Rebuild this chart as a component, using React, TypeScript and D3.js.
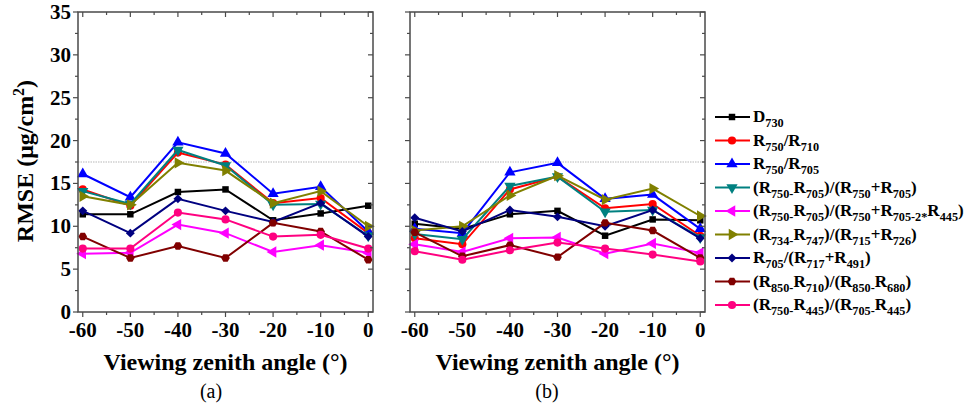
import * as d3 from "d3";

// viewing zenith angles (x)
const angles = [-60, -50, -40, -30, -20, -10, 0];
const yTicks = [0, 5, 10, 15, 20, 25, 30, 35];
const refLine = 17.5;

// legend labels, _{...} = subscript
const labels = [
  "D_{730}",
  "R_{750}/R_{710}",
  "R_{750}/R_{705}",
  "(R_{750-}R_{705})/(R_{750}+R_{705})",
  "(R_{750-}R_{705})/(R_{750}+R_{705-2*}R_{445})",
  "(R_{734-}R_{747})/(R_{715}+R_{726})",
  "R_{705}/(R_{717}+R_{491})",
  "(R_{850-}R_{710})/(R_{850-}R_{680})",
  "(R_{750-}R_{445})/(R_{705-}R_{445})",
];
const colors = ["#000000", "#ff0000", "#0000ff", "#008080", "#ff00ff", "#808000", "#000080", "#800000", "#ff0080"];
const shapes = ["square", "circle", "up", "down", "left", "right", "diamond", "hexagon", "circle"];

// panel (a)
const a_D730 = [11.4, 11.4, 14.0, 14.3, 10.7, 11.5, 12.4];
const a_R750_710 = [14.3, 12.4, 18.6, 17.2, 12.7, 13.3, 9.2];
const a_R750_705 = [16.1, 13.4, 19.8, 18.5, 13.8, 14.6, 9.4];
const a_ND705 = [14.1, 12.6, 18.9, 17.1, 12.5, 12.6, 8.9];
const a_mND705 = [6.8, 6.9, 10.2, 9.2, 7.0, 7.8, 6.9];
const a_R734 = [13.5, 12.5, 17.4, 16.5, 12.7, 14.1, 10.0];
const a_R705_717 = [11.8, 9.2, 13.2, 11.8, 10.5, 12.7, 8.8];
const a_R850 = [8.8, 6.3, 7.7, 6.3, 10.4, 9.4, 6.1];
const a_R750_445 = [7.4, 7.4, 11.6, 10.8, 8.8, 9.0, 7.4];

// panel (b)
const b_D730 = [10.3, 9.7, 11.4, 11.8, 8.9, 10.8, 10.7];
const b_R750_710 = [8.6, 7.9, 14.3, 15.8, 12.1, 12.6, 8.9];
const b_R750_705 = [9.7, 9.2, 16.3, 17.4, 13.2, 13.7, 9.7];
const b_ND705 = [9.1, 8.5, 14.7, 15.8, 11.7, 11.9, 8.7];
const b_mND705 = [7.9, 7.0, 8.6, 8.7, 6.8, 8.0, 6.9];
const b_R734 = [9.5, 10.0, 13.6, 15.9, 13.1, 14.4, 11.2];
const b_R705_717 = [11.0, 9.4, 11.9, 11.1, 10.0, 11.9, 8.6];
const b_R850 = [9.3, 6.5, 7.8, 6.4, 10.4, 9.5, 6.3];
const b_R750_445 = [7.1, 6.1, 7.2, 8.1, 7.4, 6.7, 5.9];

const panelA = [a_D730, a_R750_710, a_R750_705, a_ND705, a_mND705, a_R734, a_R705_717, a_R850, a_R750_445];
const panelB = [b_D730, b_R750_710, b_R750_705, b_ND705, b_mND705, b_R734, b_R705_717, b_R850, b_R750_445];

const serif = "'Liberation Serif', 'Times New Roman', serif";
const axisColor = "#4a4a4a";

function hexPath(r: number) {
  const pts = d3.range(6).map((i) => {
    const a = (Math.PI / 3) * i;
    return [r * Math.cos(a), r * Math.sin(a)];
  });
  return "M" + pts.map((p) => p.join(",")).join("L") + "Z";
}

function Marker({ shape, color, x, y }: { shape: string; color: string; x: number; y: number }) {
  let d = "";
  let rot = 0;
  if (shape === "square") d = d3.symbol(d3.symbolSquare, 42)()!;
  else if (shape === "circle") d = d3.symbol(d3.symbolCircle, 52)()!;
  else if (shape === "diamond") { d = d3.symbol(d3.symbolSquare, 40)()!; rot = 45; }
  else if (shape === "hexagon") d = hexPath(4.3);
  else {
    d = d3.symbol(d3.symbolTriangle, 55)()!;
    rot = shape === "down" ? 180 : shape === "left" ? -90 : shape === "right" ? 90 : 0;
  }
  return <path d={d} fill={color} transform={`translate(${x},${y}) rotate(${rot})`} />;
}

function RichText({ text, x, y, size }: { text: string; x: number; y: number; size: number }) {
  const parts = text.split(/(_\{[^}]*\})/).filter((s) => s.length);
  let shifted = false;
  return (
    <text x={x} y={y} fontFamily={serif} fontWeight="bold" fontSize={size} fill="#000">
      {parts.map((p, i) => {
        if (p.startsWith("_{")) {
          const dy = shifted ? 0 : size * 0.3;
          shifted = true;
          return <tspan key={i} dy={dy} fontSize={size * 0.72}>{p.slice(2, -1)}</tspan>;
        }
        const dy = shifted ? -size * 0.3 : 0;
        shifted = false;
        return <tspan key={i} dy={dy}>{p}</tspan>;
      })}
    </text>
  );
}

function Panel({ data, left, right, tag, tagX, showYLabels }: any) {
  const top = 12, bottom = 312;
  const x = d3.scaleLinear().domain([-61, 1]).range([left, right]);
  const y = d3.scaleLinear().domain([0, 35]).range([bottom, top]);
  const xMinor = d3.range(-60, 1, 5);
  const yMinor = d3.range(0, 35.1, 2.5);
  const line = d3.line<number>().x((_, i) => x(angles[i])).y((v) => y(v));
  return (
    <g>
      <line x1={left} x2={right} y1={y(refLine)} y2={y(refLine)} stroke="#b8b8b8" strokeWidth={1.2} strokeDasharray="1.5,1" />
      {data.map((vals: number[], k: number) => (
        <g key={k}>
          <path d={line(vals)!} fill="none" stroke={colors[k]} strokeWidth={2} />
          {vals.map((v, i) => <Marker key={i} shape={shapes[k]} color={colors[k]} x={x(angles[i])} y={y(v)} />)}
        </g>
      ))}
      <rect x={left} y={top} width={right - left} height={bottom - top} fill="none" stroke={axisColor} strokeWidth={1.5} />
      {xMinor.map((t) => {
        const major = t % 10 === 0;
        const len = major ? 5 : 3;
        return (
          <g key={t}>
            <line x1={x(t)} x2={x(t)} y1={bottom} y2={bottom + len} stroke={axisColor} strokeWidth={1.2} />
            <line x1={x(t)} x2={x(t)} y1={top} y2={top + len} stroke={axisColor} strokeWidth={1.2} />
          </g>
        );
      })}
      {yMinor.map((t) => {
        const major = t % 5 === 0;
        const len = major ? 5 : 3;
        return (
          <g key={t}>
            <line x1={left - len} x2={left} y1={y(t)} y2={y(t)} stroke={axisColor} strokeWidth={1.2} />
            <line x1={right - len} x2={right} y1={y(t)} y2={y(t)} stroke={axisColor} strokeWidth={1.2} />
          </g>
        );
      })}
      {angles.map((t) => (
        <text key={t} x={x(t)} y={337} textAnchor="middle" fontFamily={serif} fontWeight="bold" fontSize={21}>{t}</text>
      ))}
      {showYLabels && yTicks.map((t) => (
        <text key={t} x={left - 7} y={y(t) + 7} textAnchor="end" fontFamily={serif} fontWeight="bold" fontSize={21}>{t}</text>
      ))}
      <text x={(left + right) / 2} y={370} textAnchor="middle" fontFamily={serif} fontWeight="bold" fontSize={24}>
        Viewing zenith angle (°)
      </text>
      <text x={tagX} y={398} textAnchor="middle" fontFamily={serif} fontSize={20}>{tag}</text>
    </g>
  );
}

export default function App() {
  const width = 966, height = 408;
  const legendY = d3.scaleLinear().domain([0, 8]).range([117, 305]);
  return (
    <svg width={width} height={height} style={{ position: "absolute", left: 0, top: 0, background: "#fff" }}>
      <text transform="translate(33,161) rotate(-90)" textAnchor="middle" fontFamily={serif} fontWeight="bold" fontSize={24}>
        RMSE (μg/cm<tspan dy={-9} fontSize={16}>2</tspan><tspan dy={9}>)</tspan>
      </text>
      <Panel data={panelA} left={78} right={373} tag="(a)" tagX={211} showYLabels={true} />
      <Panel data={panelB} left={410} right={705} tag="(b)" tagX={547} showYLabels={false} />
      {labels.map((lab, k) => {
        const ly = legendY(k);
        return (
          <g key={k}>
            <line x1={715} x2={750} y1={ly} y2={ly} stroke={colors[k]} strokeWidth={2} />
            <Marker shape={shapes[k]} color={colors[k]} x={732} y={ly} />
            <RichText text={lab} x={753} y={ly + 5} size={17} />
          </g>
        );
      })}
    </svg>
  );
}
